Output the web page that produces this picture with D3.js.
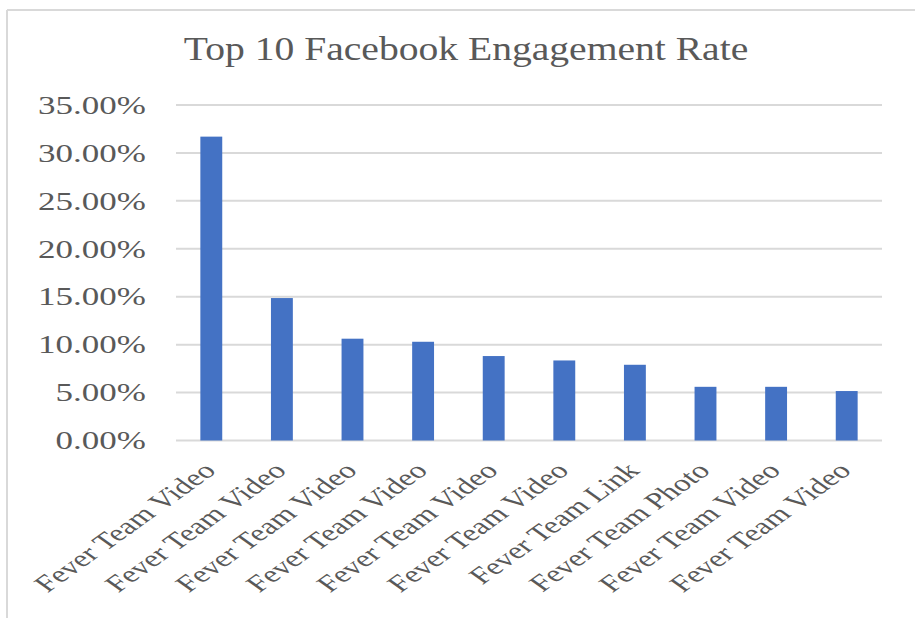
<!DOCTYPE html>
<html>
<head>
<meta charset="utf-8">
<script src="https://cdn.jsdelivr.net/npm/d3@7/dist/d3.min.js"></script>
<style>
  html, body { margin: 0; padding: 0; background: #fff; }
  svg { display: block; }
  text { font-family: "Liberation Serif", "Times New Roman", serif; fill: #595959; }
</style>
</head>
<body>
<svg id="chart" width="915" height="618"></svg>
<script>
// Post categories (x axis) and engagement rates (fractions)
const categories = [
  "Fever Team Video", "Fever Team Video", "Fever Team Video", "Fever Team Video",
  "Fever Team Video", "Fever Team Video", "Fever Team Link", "Fever Team Photo",
  "Fever Team Video", "Fever Team Video"
];
const engagementRate = [0.317, 0.1486, 0.1062, 0.1030, 0.0881, 0.0835, 0.079, 0.056, 0.056, 0.0516];
const yTicks = [0, 0.05, 0.10, 0.15, 0.20, 0.25, 0.30, 0.35];
const chartTitle = "Top 10 Facebook Engagement Rate";

const svg = d3.select("#chart");
const plot = { left: 176, right: 882, top: 105, bottom: 440.5 };

// Outer frame (top and left edges)
svg.append("line").attr("x1", 7).attr("x2", 915).attr("y1", 10).attr("y2", 10)
  .attr("stroke", "#d9d9d9").attr("stroke-width", 2);
svg.append("line").attr("x1", 7).attr("x2", 7).attr("y1", 10).attr("y2", 618)
  .attr("stroke", "#d9d9d9").attr("stroke-width", 2);

const x = d3.scaleBand()
  .domain(d3.range(categories.length))
  .range([plot.left, plot.right])
  .paddingInner(0.69)
  .paddingOuter(0.345);

const y = d3.scaleLinear().domain([0, 0.35]).range([plot.bottom, plot.top]);

// Horizontal gridlines
svg.append("g").selectAll("line").data(yTicks).join("line")
  .attr("x1", plot.left).attr("x2", plot.right)
  .attr("y1", d => y(d)).attr("y2", d => y(d))
  .attr("stroke", "#d9d9d9").attr("stroke-width", 2);

// Y-axis tick labels (percent with two decimals)
const fmt = d3.format(".2%");
svg.append("g").selectAll("text").data(yTicks).join("text")
  .attr("transform", d => `translate(146,${y(d)}) scale(1.4,1)`)
  .attr("dy", "0.35em")
  .attr("text-anchor", "end")
  .attr("font-size", 25)
  .text(d => fmt(d));

// Bars
svg.append("g").selectAll("rect").data(engagementRate).join("rect")
  .attr("x", (d, i) => x(i))
  .attr("width", x.bandwidth())
  .attr("y", d => y(d))
  .attr("height", d => y(0) - y(d))
  .attr("fill", "#4472c4");

// Rotated category labels
svg.append("g").selectAll("text").data(categories).join("text")
  .attr("transform", (d, i) => `translate(${x(i) + x.bandwidth() / 2 + 6},472) scale(1.4,1) rotate(-45)`)
  .attr("text-anchor", "end")
  .attr("font-size", 23.4)
  .text(d => d);

// Title
svg.append("text")
  .attr("transform", "translate(466,60) scale(1.2,1)")
  .attr("text-anchor", "middle")
  .attr("font-size", 33)
  .text(chartTitle);
</script>
</body>
</html>
